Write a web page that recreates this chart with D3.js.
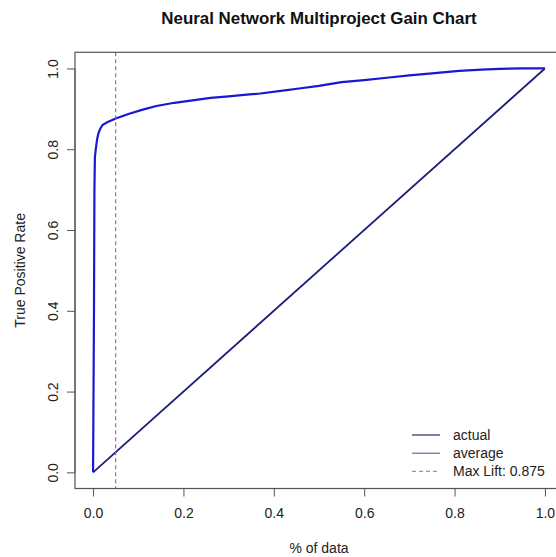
<!DOCTYPE html>
<html>
<head>
<meta charset="utf-8">
<script src="https://cdn.jsdelivr.net/npm/d3@7"></script>
<style>
  body { margin: 0; background: #fff; }
  svg { display: block; font-family: "Liberation Sans", Arial, sans-serif; }
</style>
</head>
<body>
<svg id="chart" width="556" height="557"></svg>
<script>
// gain curve
const actualX = [0, 0.002, 0.003, 0.004, 0.006, 0.009, 0.012, 0.016, 0.021, 0.03, 0.05, 0.08, 0.11, 0.14, 0.18, 0.22, 0.26, 0.30, 0.34, 0.37, 0.42, 0.46, 0.50, 0.55, 0.60, 0.65, 0.70, 0.75, 0.81, 0.86, 0.90, 0.95, 1.0];
const actualY = [0, 0.40, 0.70, 0.78, 0.80, 0.825, 0.840, 0.851, 0.860, 0.866, 0.876, 0.888, 0.898, 0.907, 0.915, 0.921, 0.927, 0.931, 0.935, 0.938, 0.945, 0.951, 0.957, 0.966, 0.971, 0.977, 0.983, 0.988, 0.994, 0.997, 0.999, 1.0, 1.0];
const averageX = [0, 1];
const averageY = [0, 1];
const maxLiftX = 0.05;
const xTicks = [0, 0.2, 0.4, 0.6, 0.8, 1.0];
const yTicks = [0, 0.2, 0.4, 0.6, 0.8, 1.0];
const legendLabels = ["actual", "average", "Max Lift: 0.875"];

const svg = d3.select("#chart");
const pLeft = 75, pRight = 563, pTop = 52.3, pBottom = 488.5;

const x = d3.scaleLinear().domain([-0.04, 1.04]).range([pLeft, pRight]);
const y = d3.scaleLinear().domain([-0.04, 1.04]).range([pBottom, pTop]);

svg.append("defs").append("clipPath").attr("id", "plotclip")
  .append("rect").attr("x", pLeft).attr("y", pTop)
  .attr("width", pRight - pLeft).attr("height", pBottom - pTop);

const plot = svg.append("g").attr("clip-path", "url(#plotclip)");

const line = d3.line().x(d => x(d[0])).y(d => y(d[1]));

// diagonal (average)
plot.append("path")
  .datum(averageX.map((v, i) => [v, averageY[i]]))
  .attr("d", line)
  .attr("fill", "none").attr("stroke", "#1c1c7a").attr("stroke-width", 1.8);

// actual gain curve
plot.append("path")
  .datum(actualX.map((v, i) => [v, actualY[i]]))
  .attr("d", line)
  .attr("fill", "none").attr("stroke", "#1818d4").attr("stroke-width", 2.2)
  .attr("stroke-linejoin", "round");

// max lift line
plot.append("line")
  .attr("x1", x(maxLiftX)).attr("x2", x(maxLiftX))
  .attr("y1", pTop).attr("y2", pBottom)
  .attr("stroke", "#c040c8").attr("stroke-width", 1.1)
  .attr("stroke-dasharray", "4,3");

// box
svg.append("rect")
  .attr("x", pLeft).attr("y", pTop)
  .attr("width", pRight - pLeft).attr("height", pBottom - pTop)
  .attr("fill", "none").attr("stroke", "#555").attr("stroke-width", 1.2);

// axes
const xAxis = d3.axisBottom(x).tickValues(xTicks).tickFormat(d3.format(".1f"))
  .tickSize(8).tickPadding(12);
const gx = svg.append("g").attr("transform", `translate(0,${pBottom})`).call(xAxis);
gx.select(".domain").attr("stroke", "#555").attr("d", `M${x(0)},0H${x(1)}`);
gx.selectAll(".tick line").attr("stroke", "#555");
gx.selectAll(".tick text").attr("font-size", 14).attr("fill", "#222")
  .attr("font-family", "Liberation Sans, Arial, sans-serif");

const yAxis = d3.axisLeft(y).tickValues(yTicks).tickFormat(d3.format(".1f"))
  .tickSize(8);
const gy = svg.append("g").attr("transform", `translate(${pLeft},0)`).call(yAxis);
gy.select(".domain").attr("stroke", "#555").attr("d", `M0,${y(0)}V${y(1)}`);
gy.selectAll(".tick line").attr("stroke", "#555");
gy.selectAll(".tick text")
  .attr("font-size", 14).attr("fill", "#222")
  .attr("font-family", "Liberation Sans, Arial, sans-serif")
  .attr("x", 0).attr("y", 0).attr("dy", null)
  .attr("text-anchor", "middle")
  .attr("transform", "translate(-17,0) rotate(-90)");

// titles
svg.append("text")
  .attr("x", (pLeft + pRight) / 2).attr("y", 24)
  .attr("text-anchor", "middle").attr("font-size", 16.9).attr("font-weight", "bold")
  .attr("fill", "#111")
  .text("Neural Network Multiproject Gain Chart");

svg.append("text")
  .attr("x", (pLeft + pRight) / 2).attr("y", 553)
  .attr("text-anchor", "middle").attr("font-size", 14).attr("fill", "#222")
  .text("% of data");

svg.append("text")
  .attr("transform", `translate(25,${(pTop + pBottom) / 2}) rotate(-90)`)
  .attr("text-anchor", "middle").attr("font-size", 14).attr("fill", "#222")
  .text("True Positive Rate");

// legend
const legendColors = ["#2a2a70", "#6a62b4", "#d070d8"];
const legendDash = [null, null, "4,3"];
const lg = svg.append("g").attr("transform", "translate(412,435)");
legendLabels.forEach((t, i) => {
  const row = lg.append("g").attr("transform", `translate(0,${i * 18.2})`);
  row.append("line").attr("x1", 0).attr("x2", 28).attr("y1", 0).attr("y2", 0)
    .attr("stroke", legendColors[i]).attr("stroke-width", 1.2)
    .attr("stroke-dasharray", legendDash[i]);
  row.append("text").attr("x", 41).attr("y", 0).attr("dy", "0.35em")
    .attr("font-size", 14).attr("fill", "#222").text(t);
});
</script>
</body>
</html>
